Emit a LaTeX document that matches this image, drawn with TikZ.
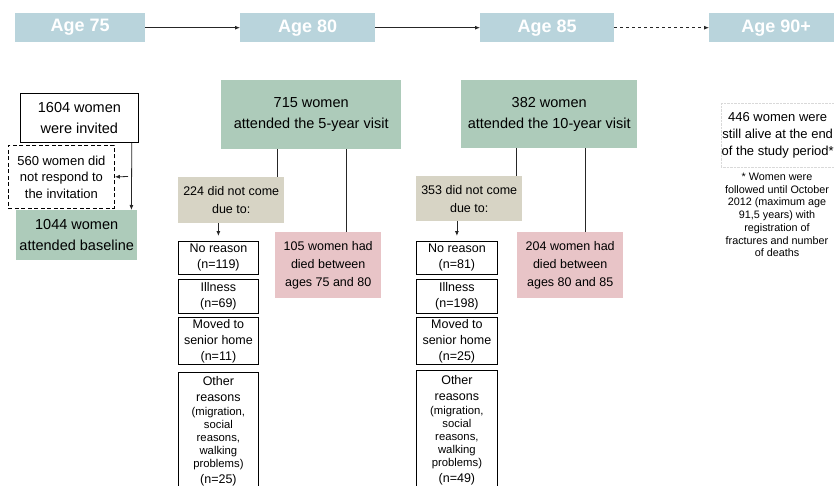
\documentclass[tikz,border=0pt]{standalone}
\usepackage{fontspec}
\setmainfont{Liberation Sans}
\usetikzlibrary{positioning,arrows.meta}
\definecolor{ageblue}{HTML}{B9D4DC}
\definecolor{attgreen}{HTML}{ADCBBA}
\definecolor{absbeige}{HTML}{D7D4C5}
\definecolor{diedpink}{HTML}{E8C4C7}
\newcommand{\smalltxt}{\fontsize{11.3}{12.7}\selectfont}

\begin{document}
\begin{tikzpicture}[x=1pt, y=-1pt, >={Latex[length=5pt,width=4pt]},
		age/.style={anchor=north west, fill=ageblue, text=white, inner sep=0pt, minimum height=29pt,
			font=\bfseries\fontsize{18}{20}\selectfont},
		attend/.style={anchor=north west, fill=attgreen, inner sep=0pt, align=center,
			font=\fontsize{14.5}{21}\selectfont},
		absent/.style={anchor=north west, fill=absbeige, inner sep=0pt, align=center,
			font=\fontsize{12.5}{18}\selectfont},
		died/.style={anchor=north west, fill=diedpink, inner sep=0pt, align=center,
			font=\fontsize{12.5}{18}\selectfont},
		why/.style={anchor=north west, draw, line width=0.8pt, inner sep=0pt, align=center,
			font=\fontsize{12.5}{16}\selectfont},
		link/.style={line width=0.8pt, black!85}]
		\useasboundingbox (0,0) rectangle (834,486);

		% time line
		\node[age, minimum width=130pt] (a75) at (15,13) {Age 75};
		\node[age, minimum width=135pt] (a80) at (240,13) {Age 80};
		\node[age, minimum width=134pt] (a85) at (480,13) {Age 85};
		\node[age, minimum width=134pt] (a90) at (709,13) {Age 90+};

		\draw[->, link] (a75) -- (a80);
		\draw[->, link] (a80) -- (a85);
		\draw[->, link, dashed] (a85) -- (a90);

		% baseline
		\node[draw, line width=0.8pt, anchor=north west, inner sep=0pt, minimum width=118pt, minimum height=49pt,
			align=center, font=\fontsize{14.5}{21}\selectfont] (invited) at (20,93) {1604 women\\were invited};
		\node[draw, dash pattern=on 4pt off 2.5pt, line width=0.8pt, anchor=north west, inner sep=0pt, minimum width=106pt, minimum height=63pt,
			align=center, font=\fontsize{13}{16.5}\selectfont] (noresp) at (8,145) {560 women did\\not respond to\\the invitation};
		\node[attend, minimum width=121pt, minimum height=50pt] (baseline) at (16,210) {1044 women\\attended baseline};
		\coordinate (split) at (128,176.5);

		\draw[->, link] ([xshift=-7pt]invited.south east) -- ([xshift=-6pt]baseline.north east);
		\draw[->, link] (split) -- (noresp.east);

		% 5-year visit
		\node[attend, minimum width=180pt, minimum height=69pt] (visit5) at (221,80) {715 women\\attended the 5-year visit};
		\node[absent, minimum width=106pt, minimum height=46pt] (absent5) at (178,177) {224 did not come\\due to:};
		\node[died, minimum width=106pt, minimum height=66pt] (died5) at (275,232) {105 women had\\died between\\ages 75 and 80};
		\node[why, minimum width=80pt, minimum height=33pt] (noreason5) at (178,241) {No reason\\(n=119)};
		\node[why, minimum width=80pt, minimum height=34pt] (illness5) at (178,279) {Illness\\(n=69)};
		\node[why, minimum width=80pt, minimum height=47pt] (moved5) at (178,317) {Moved to\\senior home\\(n=11)};
		\node[why, minimum width=80pt, minimum height=118pt] (other5) at (178,372) {Other\\reasons\\[-2pt]
			{\smalltxt (migration,}\\[-3pt]{\smalltxt social}\\[-3pt]{\smalltxt reasons,}\\[-3pt]
			{\smalltxt walking}\\[-3pt]{\smalltxt problems)}\\(n=25)};

		\draw[link] ([xshift=-7pt]absent5.north east) -- ([xshift=-7pt]absent5.north east |- visit5.south);
		\draw[link] ([xshift=71pt]died5.north west) -- ([xshift=71pt]died5.north west |- visit5.south);
		\draw[->, link] (absent5.south -| noreason5.north) -- ([yshift=5pt]noreason5.north);

		% 10-year visit
		\node[attend, minimum width=176pt, minimum height=68pt] (visit10) at (461,80) {382 women\\attended the 10-year visit};
		\node[absent, minimum width=106pt, minimum height=45pt] (absent10) at (416,176) {353 did not come\\due to:};
		\node[died, minimum width=106pt, minimum height=66pt] (died10) at (517,232) {204 women had\\died between\\ages 80 and 85};
		\node[why, minimum width=81pt, minimum height=33pt] (noreason10) at (416,241) {No reason\\(n=81)};
		\node[why, minimum width=81pt, minimum height=34pt] (illness10) at (416,279) {Illness\\(n=198)};
		\node[why, minimum width=81pt, minimum height=47pt] (moved10) at (416,317) {Moved to\\senior home\\(n=25)};
		\node[why, minimum width=81pt, minimum height=120pt] (other10) at (416,370) {Other\\reasons\\[-2pt]
			{\smalltxt (migration,}\\[-3pt]{\smalltxt social}\\[-3pt]{\smalltxt reasons,}\\[-3pt]
			{\smalltxt walking}\\[-3pt]{\smalltxt problems)}\\(n=49)};

		\draw[link] ([xshift=-6pt]absent10.north east) -- ([xshift=-6pt]absent10.north east |- visit10.south);
		\draw[link] ([xshift=68pt]died10.north west) -- ([xshift=68pt]died10.north west |- visit10.south);
		\draw[->, link] (absent10.south -| noreason10.north) -- ([yshift=5pt]noreason10.north);

		% end of study
		\node[draw=black!15, densely dotted, anchor=north west, inner sep=0pt, minimum width=113pt, minimum height=64pt,
			align=center, font=\fontsize{13}{17}\selectfont] (alive) at (721,103) {446 women were\\still alive at the end\\of the study period*};
		\node[align=center, inner sep=0pt, font=\fontsize{10.8}{12.7}\selectfont] (note) at (777,215)
			{* Women were\\followed until October\\2012 (maximum age\\91,5 years) with\\registration of\\fractures and number\\of deaths};
	\end{tikzpicture}
\end{document}
